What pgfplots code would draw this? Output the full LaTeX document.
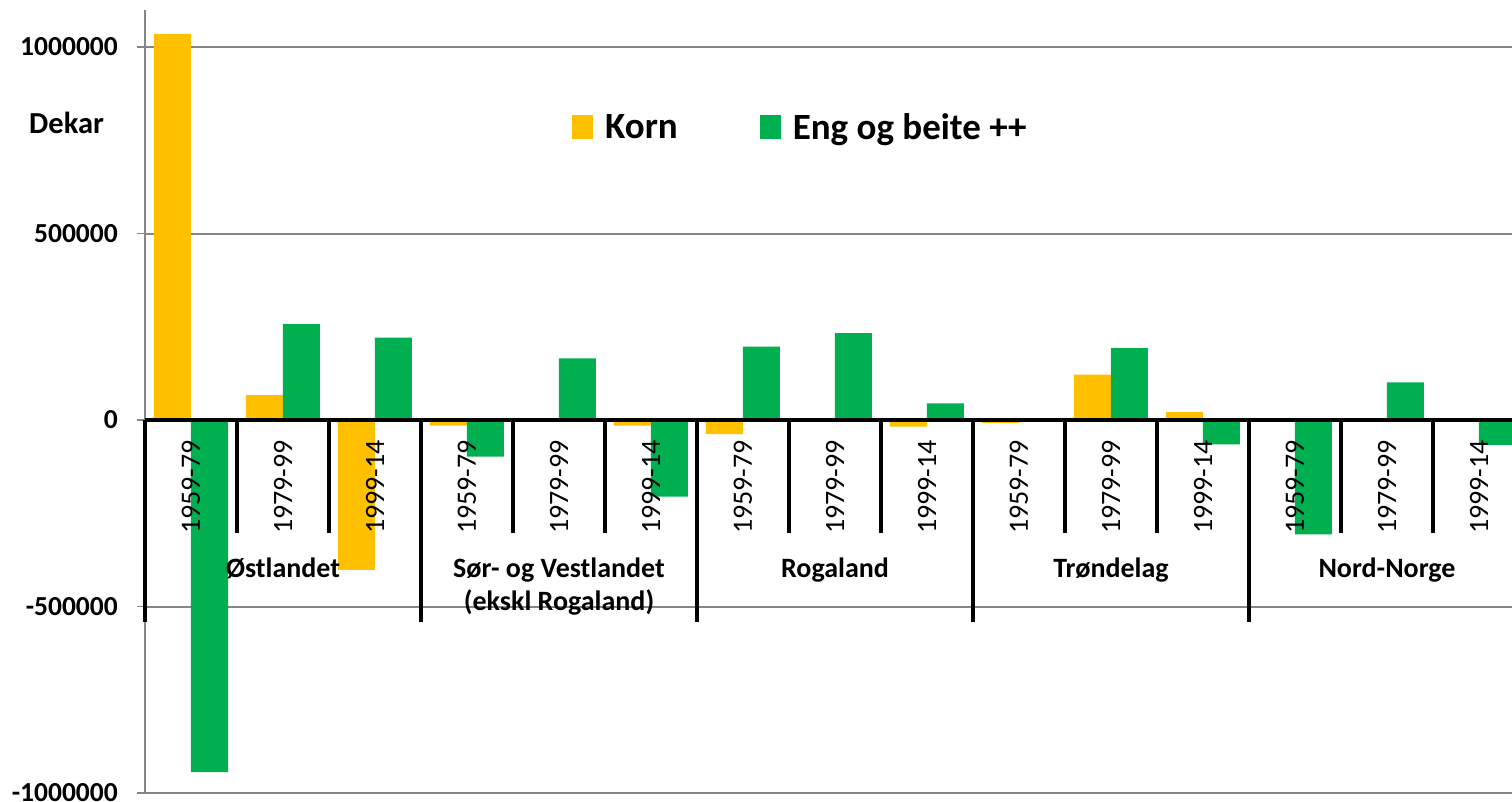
\documentclass[border=0pt]{standalone}
\usepackage{pgfplots}
\pgfplotsset{compat=1.18}
\usepackage{fontspec}
\setmainfont{Carlito}
\definecolor{korn}{HTML}{FFC000}
\definecolor{eng}{HTML}{00B050}
\definecolor{gridc}{RGB}{134,134,134}
\begin{document}
\begin{tikzpicture}
\begin{axis}[
  at={(145pt,-793pt)}, anchor=south west,
  scale only axis, width=1367pt, height=783.3pt,
  xmin=-0.5, xmax=14.359, ymin=-1000000, ymax=1100000,
  ybar=0pt, bar width=37pt,
  axis x line=none, axis y line*=left,
  y axis line style={gridc, line width=1.7pt},
  ytick={-1000000,-500000,0,500000,1000000},
  scaled y ticks=false,
  ymajorgrids, grid style={gridc, line width=2pt},
  tick align=outside, major tick length=8pt,
  ytick style={gridc, line width=1.7pt},
  yticklabel style={font=\bfseries\fontsize{27.5}{27.5}\selectfont,
    /pgf/number format/fixed, /pgf/number format/1000 sep={},
    /pgf/number format/assume math mode=true, inner sep=0pt},
  yticklabel shift=19pt,
  xtick=\empty,
  clip mode=individual,
  legend columns=2,
  legend image code/.code={\fill[#1] (0pt,-12pt) rectangle (21pt,12pt);},
  legend style={at={(axis description cs:0.3124,0.8502)}, anchor=west,
    draw=none, fill=none, inner sep=0pt,
    font=\bfseries\fontsize{37}{37}\selectfont,
    /tikz/every odd column/.append style={column sep=10pt},
    /tikz/every even column/.append style={column sep=80pt}},
]
\addplot[fill=korn, draw=none] coordinates {
 (0,1035000) (1,67000) (2,-402000)
 (3,-15000) (4,0) (5,-15000)
 (6,-38000) (7,0) (8,-18000)
 (9,-8000) (10,122000) (11,21400)
 (12,-3000) (13,0) (14,0)};
\addplot[fill=eng, draw=none] coordinates {
 (0,-943700) (1,257400) (2,220600)
 (3,-98400) (4,165400) (5,-205600)
 (6,196500) (7,233200) (8,44800)
 (9,0) (10,193000) (11,-65100)
 (12,-306400) (13,101000) (14,-67000)};
\legend{Korn, Eng og beite ++}
% axis line at zero and category separators
\draw[black, line width=4pt] (axis cs:-0.5,0) -- (axis cs:14.359,0);
\draw[black, line width=3.5pt]
  (axis cs:-0.5,0) -- (axis cs:-0.5,-541600)
  (axis cs:2.5,0) -- (axis cs:2.5,-541600)
  (axis cs:5.5,0) -- (axis cs:5.5,-541600)
  (axis cs:8.5,0) -- (axis cs:8.5,-541600)
  (axis cs:11.5,0) -- (axis cs:11.5,-541600)
  (axis cs:0.5,0) -- (axis cs:0.5,-303000)
  (axis cs:1.5,0) -- (axis cs:1.5,-303000)
  (axis cs:3.5,0) -- (axis cs:3.5,-303000)
  (axis cs:4.5,0) -- (axis cs:4.5,-303000)
  (axis cs:6.5,0) -- (axis cs:6.5,-303000)
  (axis cs:7.5,0) -- (axis cs:7.5,-303000)
  (axis cs:9.5,0) -- (axis cs:9.5,-303000)
  (axis cs:10.5,0) -- (axis cs:10.5,-303000)
  (axis cs:12.5,0) -- (axis cs:12.5,-303000)
  (axis cs:13.5,0) -- (axis cs:13.5,-303000);
\begin{scope}[every node/.style={rotate=90, anchor=east, inner sep=0pt,
    font=\fontsize{28}{28}\selectfont}]
\node at (axis cs:0,-53600) {1959-79};
\node at (axis cs:1,-53600) {1979-99};
\node at (axis cs:2,-53600) {1999-14};
\node at (axis cs:3,-53600) {1959-79};
\node at (axis cs:4,-53600) {1979-99};
\node at (axis cs:5,-53600) {1999-14};
\node at (axis cs:6,-53600) {1959-79};
\node at (axis cs:7,-53600) {1979-99};
\node at (axis cs:8,-53600) {1999-14};
\node at (axis cs:9,-53600) {1959-79};
\node at (axis cs:10,-53600) {1979-99};
\node at (axis cs:11,-53600) {1999-14};
\node at (axis cs:12,-53600) {1959-79};
\node at (axis cs:13,-53600) {1979-99};
\node at (axis cs:14,-53600) {1999-14};
\end{scope}
\begin{scope}[every node/.style={anchor=base, inner sep=0pt,
    font=\bfseries\fontsize{28}{28}\selectfont}]
\node at (axis cs:1,-420900) {Østlandet};
\node at (axis cs:4,-420900) {Sør- og Vestlandet};
\node at (axis cs:4,-512000) {(ekskl Rogaland)};
\node at (axis cs:7,-420900) {Rogaland};
\node at (axis cs:10,-420900) {Trøndelag};
\node at (axis cs:13,-420900) {Nord-Norge};
\end{scope}
\end{axis}
\node[anchor=base west, inner sep=0pt, font=\bfseries\fontsize{30.5}{30.5}\selectfont]
  at (29pt,-133pt) {Dekar};
\pgfresetboundingbox
\path[use as bounding box] (0pt,0pt) rectangle (1512pt,-801pt);
\end{tikzpicture}
\end{document}
